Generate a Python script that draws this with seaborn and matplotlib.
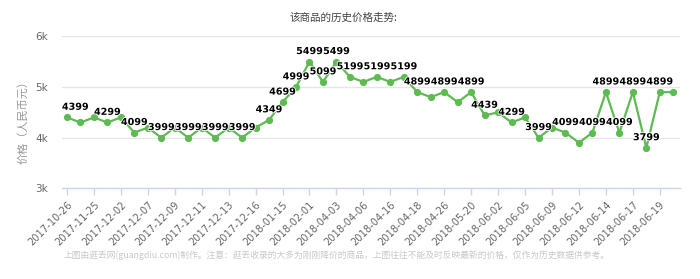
import matplotlib
matplotlib.use('Agg')
import matplotlib.pyplot as plt
import matplotlib.patheffects as pe
import seaborn as sns
import pandas as pd

# ---- data ----
prices = [4399, 4299, 4399, 4299, 4399, 4099, 4199, 3999, 4199, 3999,
          4199, 3999, 4199, 3999, 4199, 4349, 4699, 4999, 5499, 5099,
          5499, 5199, 5099, 5199, 5099, 5199, 4899, 4799, 4899, 4699,
          4899, 4439, 4499, 4299, 4399, 3999, 4199, 4099, 3899, 4099,
          4899, 4099, 4899, 3799, 4899, 4899]
labeled_points = [0, 3, 5, 7, 9, 11, 13, 15, 16, 17, 18, 19, 20, 21, 23, 25,
                  26, 28, 30, 31, 33, 35, 37, 39, 40, 41, 42, 43, 44]
tick_labels = ['2017-10-26', '2017-11-25', '2017-12-02', '2017-12-07', '2017-12-09',
               '2017-12-11', '2017-12-13', '2017-12-16', '2018-01-15', '2018-02-01',
               '2018-04-03', '2018-04-06', '2018-04-16', '2018-04-18', '2018-04-26',
               '2018-05-20', '2018-06-02', '2018-06-05', '2018-06-09', '2018-06-12',
               '2018-06-14', '2018-06-17', '2018-06-19']
y_ticks = [3000, 4000, 5000, 6000]
y_tick_labels = ['3k', '4k', '5k', '6k']
title = '该商品的历史价格走势:'
y_title = '价格（人民币元）'
footer = '上图由逛丢网(guangdiu.com)制作。注意：逛丢收录的大多为刚刚降价的商品，上图往往不能及时反映最新的价格，仅作为历史数据供参考。'

GREEN = '#5dbb52'

sns.set_theme(style='white')
plt.rcParams['font.family'] = ['DejaVu Sans', 'Noto Sans CJK SC']
plt.rcParams['axes.unicode_minus'] = False

W, H = 700, 279
fig = plt.figure(figsize=(W / 100, H / 100), dpi=100)
ax = fig.add_axes([62 / W, (H - 188.3) / H, (680 - 62) / W, (188.3 - 36.3) / H])

df = pd.DataFrame({'idx': range(len(prices)), 'price': prices})
sns.lineplot(data=df, x='idx', y='price', ax=ax, color=GREEN, linewidth=1.6,
             marker='o', markersize=5.2, markeredgewidth=0, zorder=3)

ax.set_ylim(3000, 6000)
ax.set_yticks(y_ticks)
ax.set_yticklabels(y_tick_labels)
ax.set_xlim(-0.37, 45.5)
ax.set_xticks(list(range(0, 2 * len(tick_labels), 2)))
ax.set_xticklabels(tick_labels)
for lab in ax.get_xticklabels():
    lab.set_rotation(45)
    lab.set_ha('right')
    lab.set_rotation_mode('anchor')

ax.yaxis.grid(True, color='#e6e6e6', linewidth=1)
ax.xaxis.grid(False)
for s in ['top', 'left', 'right']:
    ax.spines[s].set_visible(False)
ax.spines['bottom'].set_color('#ccd6eb')
ax.spines['bottom'].set_linewidth(1)
ax.tick_params(axis='x', length=4.7, color='#ccd6eb', width=1, pad=3.5,
               labelsize=7.1, labelcolor='#666666', bottom=True)
ax.tick_params(axis='y', length=0, pad=10, labelsize=7.5, labelcolor='#666666')

ax.set_xlabel('')
ax.set_ylabel(y_title, color='#999999', fontsize=8, family=['Noto Sans CJK SC', 'DejaVu Sans'])
ax.yaxis.set_label_coords((28 - 62) / 618, 0.45)

for i in labeled_points:
    dx = 6 if i == 0 else 0
    ax.annotate(str(prices[i]), (i, prices[i]), xytext=(dx, 5.5), textcoords='offset points',
                ha='center', va='baseline', fontsize=6.9, fontweight='bold', color='black',
                zorder=5, path_effects=[pe.withStroke(linewidth=1.2, foreground='white')])

fig.text(343 / W, 1 - 18 / H, title, ha='center', va='center', fontsize=7.6, color='#444444',
         family=['Noto Sans CJK SC', 'DejaVu Sans'])
fig.text(336 / W, 1 - 255 / H, footer, ha='center', va='center', fontsize=6.3, color='#c8c8c8',
         family=['Noto Sans CJK SC', 'DejaVu Sans'])

fig.savefig('out.png', dpi=100)
